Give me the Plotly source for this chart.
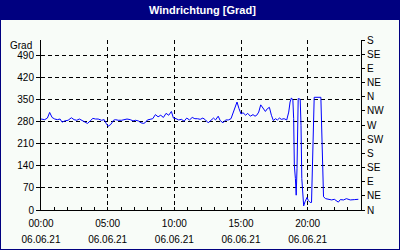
import plotly.graph_objects as go

# --- data (hours since 00:00 on 06.06.21, wind direction in degrees) ---
hours = [0.00, 0.28, 0.48, 0.65, 0.83, 1.03, 1.23, 1.43, 1.58, 1.78, 2.03, 2.28, 2.48, 2.68,
         2.88, 3.09, 3.29, 3.49, 3.69, 3.89, 4.09, 4.29, 4.54, 4.74, 4.89, 5.04, 5.24, 5.44,
         5.59, 5.79, 6.05, 6.25, 6.45, 6.70, 6.90, 7.10, 7.30, 7.50, 7.70,
         7.83, 7.98, 8.18, 8.38, 8.58, 8.78, 8.98, 9.18, 9.38, 9.58, 9.78, 9.93, 10.13, 10.33,
         10.53, 10.73, 10.93, 11.14, 11.34, 11.54, 11.74, 11.94, 12.14, 12.34, 12.54, 12.74,
         12.94, 13.09, 13.29, 13.44, 13.65, 13.85, 14.05, 14.25, 14.40, 14.55, 14.70, 14.85,
         15.00, 15.15, 15.35, 15.50, 15.70, 15.90,
         16.05, 16.18, 16.33, 16.48, 16.63, 16.83, 16.98, 17.13, 17.28, 17.43, 17.58, 17.73,
         17.88, 18.03, 18.23, 18.43, 18.58, 18.68, 18.78, 18.89, 18.95, 19.00, 19.08, 19.14,
         19.20, 19.29, 19.44, 19.50, 19.56, 19.64, 19.70, 19.80, 19.95, 20.05, 20.19, 20.29,
         20.34, 20.44, 20.49, 20.99, 21.04, 21.11, 21.19, 21.35, 21.50, 21.80, 22.00, 22.30,
         22.45, 22.70, 22.90, 23.20, 23.50, 23.80]
direction = [289, 287, 292, 310, 294, 289, 287, 289, 279, 283, 285, 293, 287, 285,
             289, 285, 279, 275, 283, 291, 289, 289, 285, 287, 275, 266, 272, 285,
             287, 285, 285, 287, 289, 287, 283, 285, 283, 277, 275,
             278, 286, 288, 290, 303, 296, 301, 294, 307, 301, 313, 292, 290, 286,
             288, 282, 292, 286, 294, 290, 290, 288, 292, 286, 277, 284,
             292, 286, 298, 284, 277, 286, 286, 290, 307, 328, 343, 322,
             305, 309, 301, 307, 298, 303,
             298, 301, 311, 334, 324, 313, 322, 326, 301, 284, 290, 286,
             292, 288, 290, 286, 311, 343, 356, 349, 290, 142, 100, 47,
             131, 354, 352, 269, 100, 57, 13, 26, 40, 30, 24, 24,
             106, 276, 358, 358, 276, 95, 42, 36, 34, 32, 34, 25,
             33, 32, 36, 32, 33, 34]

x_tickvals = [0, 5, 10, 15, 20]
x_times = ["00:00", "05:00", "10:00", "15:00", "20:00"]
x_date = "06.06.21"
y_tickvals = [0, 70, 140, 210, 280, 350, 420, 490]
y2_tickvals = [0, 45, 90, 135, 180, 225, 270, 315, 360, 405, 450, 495, 540]
y2_ticktext = ["N", "NE", "E", "SE", "S", "SW", "W", "NW", "N", "NE", "E", "SE", "S"]

title_text = "Windrichtung [Grad]"
unit_text = "Grad"

NAVY = "#000080"
BG = "#F8FCF8"
FONT = "Liberation Sans"

x_ticktext = ["<span style='font-size:10px'>%s</span><br><span style='font-size:10px'>%s</span>"
              % (t, x_date) for t in x_times]

fig = go.Figure()
fig.add_trace(go.Scatter(x=hours, y=direction, mode="lines",
                         line=dict(color="#0000FF", width=1), hoverinfo="skip"))
fig.add_trace(go.Scatter(x=[None], y=[None], yaxis="y2", showlegend=False, hoverinfo="skip"))

W, H = 400, 250
L, R, T, B = 41, 39, 40, 40
pw, ph = W - L - R, H - T - B


def px_x(p):
    return (p - L) / pw


def px_y(p):
    return (H - B - p) / ph


fig.update_layout(
    width=W, height=H,
    margin=dict(l=L, r=R, t=T, b=B, pad=0, autoexpand=False),
    paper_bgcolor=BG, plot_bgcolor=BG,
    showlegend=False, hovermode=False,
    font=dict(family=FONT, size=10, color="black"),
    xaxis=dict(range=[0, 24], tickvals=x_tickvals, ticktext=x_ticktext, automargin=False,
               ticks="inside", ticklen=3, tickcolor="black", ticklabelstandoff=1,
               showline=True, linecolor="black", linewidth=1,
               showgrid=True, gridcolor="black", griddash="4px,3px", gridwidth=1,
               zeroline=False,
               minor=dict(dtick=1, tick0=0, ticks="inside", ticklen=3, tickcolor="black", showgrid=False),
               tickfont=dict(family=FONT, size=12.3)),
    yaxis=dict(range=[0, 540], tickvals=y_tickvals, automargin=False,
               ticks="outside", ticklen=4, tickcolor="black",
               showline=True, linecolor="black", linewidth=1,
               showgrid=True, gridcolor="black", griddash="4px,3px", gridwidth=1,
               zeroline=False, tickfont=dict(family=FONT, size=10)),
    yaxis2=dict(range=[0, 540], tickvals=y2_tickvals, ticktext=y2_ticktext, automargin=False,
                overlaying="y", side="right", anchor="x",
                ticks="outside", ticklen=3, tickcolor="black",
                showline=True, linecolor="black", linewidth=1,
                showgrid=False, zeroline=False, tickfont=dict(family=FONT, size=10)),
    shapes=[
        dict(type="rect", xref="paper", yref="paper",
             x0=px_x(0), x1=px_x(W), y0=px_y(20), y1=px_y(0),
             fillcolor=NAVY, line=dict(width=0), layer="above"),
        dict(type="rect", xref="paper", yref="paper",
             x0=px_x(0), x1=px_x(W), y0=px_y(H), y1=px_y(0),
             fillcolor="rgba(0,0,0,0)", line=dict(color=NAVY, width=2), layer="above"),
    ],
    annotations=[
        dict(text="<b>" + title_text + "</b>", xref="paper", yref="paper",
             x=px_x(202), y=px_y(10), xanchor="center", yanchor="middle", showarrow=False,
             font=dict(family=FONT, size=11, color="white")),
        dict(text=unit_text, xref="paper", yref="paper",
             x=px_x(34), y=px_y(45), xanchor="right", yanchor="middle", showarrow=False,
             font=dict(family=FONT, size=10, color="black")),
    ],
)

fig.write_html("out.html")
